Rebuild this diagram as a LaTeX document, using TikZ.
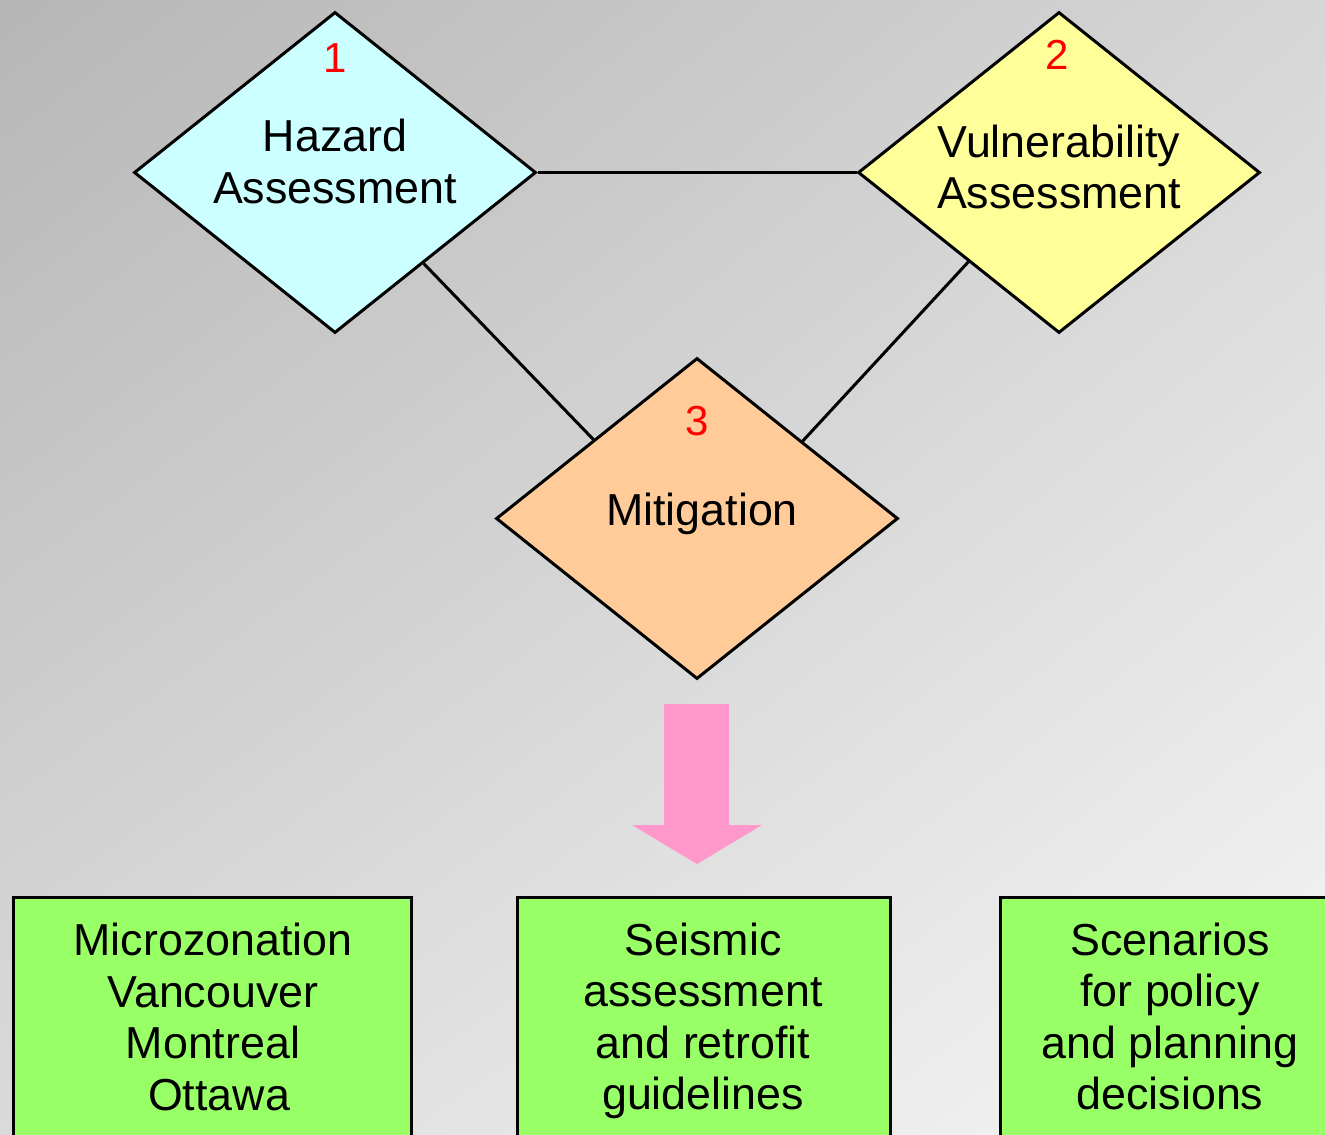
\documentclass[tikz,border=0pt]{standalone}
\usepackage{fontspec}
\setmainfont{Liberation Sans}
\usetikzlibrary{shapes.geometric,calc,shadings}
\definecolor{bgUL}{HTML}{B6B6B6}
\definecolor{bgUR}{HTML}{D6D6D6}
\definecolor{bgLL}{HTML}{DADADA}
\definecolor{bgLR}{HTML}{F6F6F6}
\definecolor{hazcol}{HTML}{CCFFFF}
\definecolor{vulcol}{HTML}{FFFF99}
\definecolor{mitcol}{HTML}{FFCC99}
\definecolor{boxcol}{HTML}{99FF66}
\definecolor{arrcol}{HTML}{FF99CC}
\definecolor{numcol}{HTML}{FF0000}
\begin{document}
\begin{tikzpicture}[x=0.5pt,y=-0.5pt,
  dia/.style={diamond,draw=black,line width=1.5pt,inner sep=0pt,
    minimum width=201pt,minimum height=160.5pt},
  outbox/.style={draw=black,line width=1.5pt,fill=boxcol},
  lbl/.style={inner sep=0pt,align=center,font=\fontsize{22.4}{25.7}\selectfont},
  num/.style={inner sep=0pt,text=numcol,font=\fontsize{21}{25}\selectfont},
  link/.style={line width=1.5pt,draw=black}]
\useasboundingbox (0,0) rectangle (1325,1134);
\clip (0,0) rectangle (1325,1134);
\shade[upper left=bgUL,upper right=bgUR,lower left=bgLL,lower right=bgLR]
  (0,0) rectangle (1325,1134);
% diamonds
\node[dia,fill=hazcol] (haz) at (335,172.5) {};
\node[dia,fill=vulcol] (vul) at (1059,172.5) {};
\node[dia,fill=mitcol] (mit) at (697,518.5) {};
% connectors
\draw[link] (haz.east) -- (vul.west);
\draw[link] ($(haz.east)!0.562!(haz.south)$) -- ($(mit.west)!0.488!(mit.north)$);
\draw[link] ($(vul.west)!0.552!(vul.south)$) -- ($(mit.north)!0.522!(mit.east)$);
% texts
\node[num] (n1) at (335,58) {1};
\node[lbl] (thaz) at (335,161.5) {Hazard\\Assessment};
\node[num] (n2) at (1057,55) {2};
\node[lbl] (tvul) at (1059,167) {Vulnerability\\Assessment};
\node[num] (n3) at (697,421) {3};
\node[lbl] (tmit) at (702,514) {Mitigation};
% arrow
\fill[arrcol] (664,704) -- (729,704) -- (729,825) -- (762,825) -- (697,864)
  -- (632,825) -- (664,825) -- cycle;
% output boxes
\node[outbox,minimum width=199pt,minimum height=150pt,anchor=north west] (b1) at (12,896) {};
\node[outbox,minimum width=186.5pt,minimum height=150pt,anchor=north west] (b2) at (516,896) {};
\node[outbox,minimum width=200pt,minimum height=150pt,anchor=north west] (b3) at (999,896) {};
\node[lbl] (t1) at (213,1017) {Microzonation\\Vancouver\\Montreal\\\hspace*{6pt}Ottawa};
\node[lbl] (t2) at (703,1021) {Seismic\\assessment\\and retrofit\\guidelines};
\node[lbl] (t3) at (1170,1016.5) {Scenarios\\for policy\\and planning\\decisions};
\end{tikzpicture}
\end{document}
